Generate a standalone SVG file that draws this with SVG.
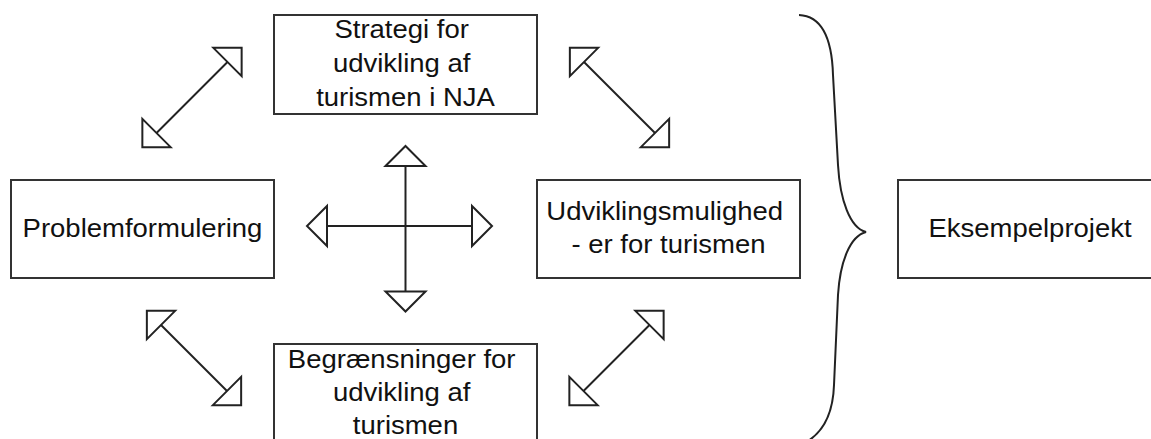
<svg xmlns="http://www.w3.org/2000/svg" width="1151" height="439" viewBox="0 0 1151 439">
  <style>
    .box { fill: #fff; stroke: #333; stroke-width: 2; }
    .lbl { font-family: "Liberation Sans", Arial, sans-serif; font-size: 25px; fill: #111; text-anchor: middle; }
    .conn { stroke: #222; stroke-width: 2; fill: none; marker-start: url(#ah); marker-end: url(#ah); }
    .brace { stroke: #222; stroke-width: 2; fill: none; }
  </style>
  <defs>
    <marker id="ah" markerUnits="userSpaceOnUse" markerWidth="30" markerHeight="46" viewBox="-3 -23 27 46" refX="0" refY="0" orient="auto-start-reverse">
      <path d="M0,-20 L20,0 L0,20 Z" fill="#fff" stroke="#222" stroke-width="2"/>
    </marker>
  </defs>
  <rect width="1151" height="439" fill="#fff"/>

  <g id="connectors">
    <line class="conn" x1="156.5" y1="133" x2="227.5" y2="62"/>
    <line class="conn" x1="584" y1="62" x2="655" y2="133"/>
    <line class="conn" x1="161" y1="325" x2="227" y2="391"/>
    <line class="conn" x1="583.5" y1="391" x2="649.5" y2="325"/>
    <line class="conn" x1="327" y1="226" x2="472" y2="226"/>
    <line class="conn" x1="405.5" y1="166" x2="405.5" y2="291.5"/>
    <path id="brace" class="brace" d="M799,15 C822,16 832,40 833,75 L838,165 C840,200 850,228 866,232 C850,236 840,262 838,295 L834,385 C833,415 822,432 808,441"/>
  </g>

  <g id="node-strategi">
    <rect class="box" x="274" y="15" width="263" height="99"/>
    <text class="lbl" transform="translate(405.5 0) scale(1.1 1)">
      <tspan x="0" y="38">Strategi for</tspan>
      <tspan x="0" y="72">udvikling af</tspan>
      <tspan x="0" y="106">turismen i NJA</tspan>
    </text>
  </g>

  <g id="node-problem">
    <rect class="box" x="11" y="180" width="263" height="98"/>
    <text class="lbl" transform="translate(142.5 0) scale(1.1 1)"><tspan x="0" y="237">Problemformulering</tspan></text>
  </g>

  <g id="node-udvikling">
    <rect class="box" x="537" y="180" width="263" height="98"/>
    <text class="lbl" transform="translate(668.5 0) scale(1.1 1)">
      <tspan x="0" y="220">Udviklingsmulighed</tspan>
      <tspan x="0" y="253">- er for turismen</tspan>
    </text>
  </g>

  <g id="node-begraensninger">
    <rect class="box" x="274" y="344" width="263" height="100"/>
    <text class="lbl" transform="translate(405.5 0) scale(1.1 1)">
      <tspan x="0" y="368">Begrænsninger for</tspan>
      <tspan x="0" y="401">udvikling af</tspan>
      <tspan x="0" y="434">turismen</tspan>
    </text>
  </g>

  <g id="node-eksempel">
    <rect class="box" x="898" y="180" width="262" height="98"/>
    <text class="lbl" transform="translate(1030 0) scale(1.1 1)"><tspan x="0" y="237">Eksempelprojekt</tspan></text>
  </g>
</svg>
